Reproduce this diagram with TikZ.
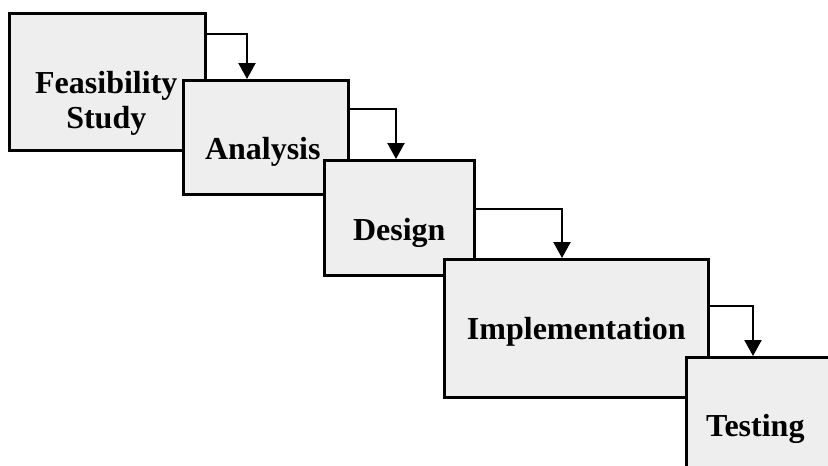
\documentclass[tikz,border=0pt]{standalone}
\usepackage{fontspec}
\setmainfont{Liberation Serif}
\usetikzlibrary{arrows.meta}
\definecolor{mylightgray}{RGB}{238,238,238}
\tikzset{
    phase/.style={anchor=north west, draw, rectangle, line width=2.6pt, fill=mylightgray, inner sep=0pt},
    phasetext/.style={align=center, font=\fontsize{32}{35}\selectfont\bfseries},
    flow/.style={line width=2.2pt, -{Triangle[width=17pt, length=16pt]}}
}

\begin{document}
\begin{tikzpicture}[x=1pt, y=-1pt]
    \useasboundingbox (0,0) rectangle (828,466);
    \clip (0,0) rectangle (828,466);
    \node[phase, minimum width=196pt, minimum height=137pt,
        label={[phasetext, xshift=-1pt, yshift=-22pt]center:Feasibility\\Study}] (FS) at (8,12) {};
    \node[phase, minimum width=165pt, minimum height=114pt,
        label={[phasetext, xshift=-3pt, yshift=-15pt]center:Analysis}] (AN) at (182,79) {};
    \node[phase, minimum width=150pt, minimum height=115pt,
        label={[phasetext, yshift=-15pt]center:Design}] (DE) at (323,159) {};
    \node[phase, minimum width=264pt, minimum height=138pt,
        label={[phasetext, yshift=-4pt]center:Implementation}] (IM) at (443,258) {};
    \node[phase, minimum width=160pt, minimum height=140pt,
        label={[phasetext, xshift=-11pt, yshift=-2pt]center:Testing}] (TE) at (685,356) {};

    \draw[flow] ([yshift=-22pt]FS.north east) -| ([xshift=65pt]AN.north west);
    \draw[flow] ([yshift=-30pt]AN.north east) -| ([xshift=73pt]DE.north west);
    \draw[flow] ([yshift=-50pt]DE.north east) -| ([xshift=119pt]IM.north west);
    \draw[flow] ([yshift=-48pt]IM.north east) -| ([xshift=68pt]TE.north west);
\end{tikzpicture}
\end{document}
